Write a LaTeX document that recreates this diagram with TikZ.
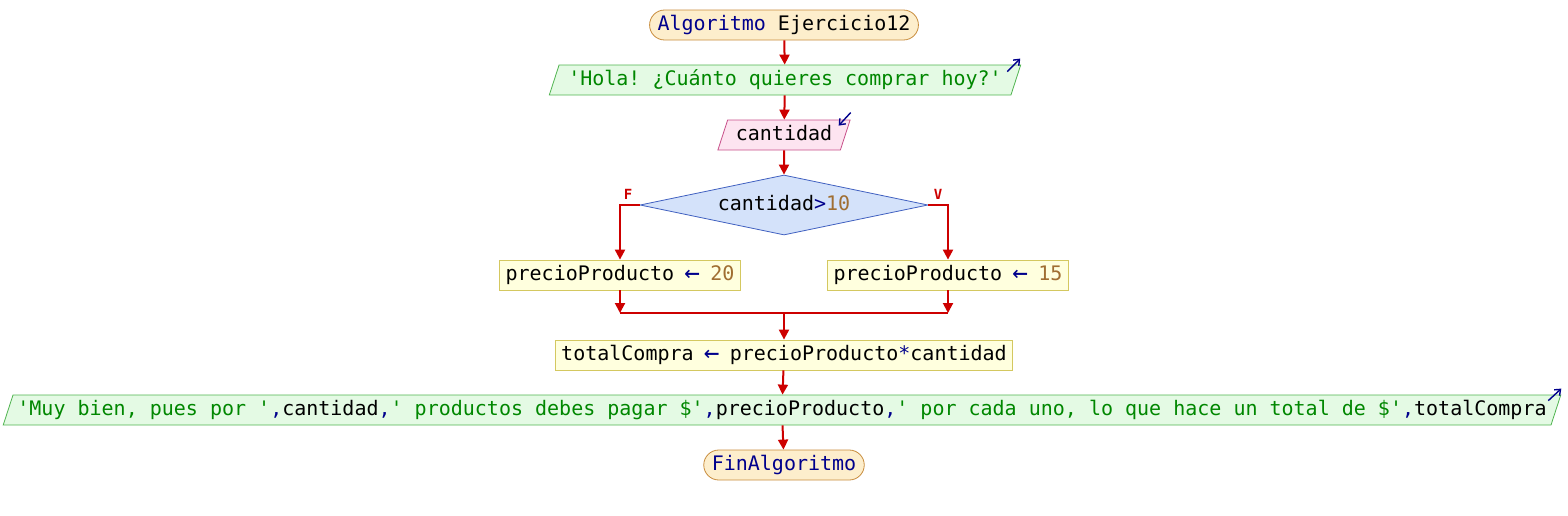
\documentclass[tikz,border=0pt]{standalone}
\usepackage{fontspec}
\setmonofont{DejaVu Sans Mono}
\usetikzlibrary{shapes.geometric,arrows.meta}

\definecolor{kwblue}{RGB}{0,0,140}
\definecolor{strgreen}{RGB}{0,135,0}
\definecolor{numbrown}{RGB}{160,110,50}
\definecolor{flowred}{RGB}{205,0,0}
\definecolor{termfill}{RGB}{253,238,204}
\definecolor{termline}{RGB}{200,140,60}
\definecolor{outfill}{RGB}{228,250,228}
\definecolor{outline}{RGB}{80,180,80}
\definecolor{infill}{RGB}{253,228,240}
\definecolor{inline}{RGB}{200,80,138}
\definecolor{condfill}{RGB}{212,226,250}
\definecolor{condline}{RGB}{64,96,192}
\definecolor{asgfill}{RGB}{255,255,222}
\definecolor{asgline}{RGB}{212,200,96}

\newcommand{\kwd}[1]{\textcolor{kwblue}{#1}}
\newcommand{\strg}[1]{\textcolor{strgreen}{#1}}
\newcommand{\numb}[1]{\textcolor{numbrown}{#1}}
\newcommand{\opr}[1]{\textcolor{kwblue}{#1}}
\newcommand{\asig}{\opr{\makebox[6.02pt]{\raisebox{-0.6pt}{\fontsize{13}{12}\selectfont ←}}}}

\begin{document}
\begin{tikzpicture}[
    x=0.5pt, y=-0.5pt,
    every node/.style={font=\ttfamily\fontsize{10}{12}\selectfont, text height=7.5pt, text depth=2.5pt, inner ysep=2.5pt},
    termnode/.style={draw=termline, fill=termfill, rounded corners=7.5pt, inner xsep=4pt},
    outnode/.style={trapezium, trapezium left angle=72, trapezium right angle=108, trapezium stretches body, draw=outline, fill=outfill, inner xsep=4.6pt},
    innode/.style={trapezium, trapezium left angle=72, trapezium right angle=108, trapezium stretches body, draw=inline, fill=infill, inner xsep=4.1pt},
    condnode/.style={diamond, aspect=4.8, draw=condline, fill=condfill, minimum width=144pt, minimum height=30pt, inner sep=0pt},
    asignnode/.style={rectangle, draw=asgline, fill=asgfill, inner xsep=3pt},
    flow/.style={draw=flowred, line width=1pt, -{Triangle[length=5pt,width=5pt]}},
    flowline/.style={draw=flowred, line width=1pt},
    ioarrow/.style={draw=kwblue, line width=0.7pt, -{Straight Barb[length=2.5pt,width=4pt]}},
    branch/.style={font=\ttfamily\bfseries\fontsize{7}{8}\selectfont, text=flowred, text height=5pt, text depth=0pt}
]
\useasboundingbox (0,0) rectangle (1568,515);

% Nodes
\node[termnode] (inicio) at (784,25) {\kwd{Algoritmo} Ejercicio12};
\node[outnode] (saludo) at (785,80) {\strg{'Hola! ¿Cuánto quieres comprar hoy?'}};
\node[innode] (leer) at (784,135) {cantidad};
\node[condnode] (cond) at (784,205) {cantidad\opr{>}\numb{10}};
\node[asignnode] (p20) at (620,275) {precioProducto \asig{} \numb{20}};
\node[asignnode] (p15) at (948,275) {precioProducto \asig{} \numb{15}};
\coordinate (junta) at (784,313);
\node[asignnode] (total) at (784,355) {totalCompra \asig{} precioProducto\opr{*}cantidad};
\node[outnode, inner xsep=2.2pt] (mensaje) at (782,410) {\strg{'Muy bien, pues por '}\opr{,}cantidad\opr{,}\strg{' productos debes pagar \$'}\opr{,}precioProducto\opr{,}\strg{' por cada uno, lo que hace un total de \$'}\opr{,}totalCompra};
\node[termnode] (fin) at (784,465) {\kwd{FinAlgoritmo}};

% Branch labels
\node[branch] (etqF) at (628,194) {F};
\node[branch] (etqV) at (938,194) {V};

% Connectors
\draw[flow] (inicio) -- (saludo);
\draw[flow] (saludo) -- (leer);
\draw[flow] (leer) -- (cond);
\draw[flow] (cond.west) -| (p20.north);
\draw[flow] (cond.east) -| (p15.north);
\draw[flow] (p20) -- (p20 |- junta);
\draw[flow] (p15) -- (p15 |- junta);
\draw[flowline] (p20 |- junta) -- (p15 |- junta);
\draw[flow] (junta) -- (total);
\draw[flow] (total) -- (mensaje);
\draw[flow] (mensaje) -- (fin);

% Input/output marks
\draw[ioarrow] ([shift={(-14,7)}]saludo.top right corner) -- ([shift={(-1,-6)}]saludo.top right corner);
\draw[ioarrow] ([shift={(0,-7)}]leer.top right corner) -- ([shift={(-12,6)}]leer.top right corner);
\draw[ioarrow] ([shift={(-13,6)}]mensaje.top right corner) -- ([shift={(0,-6)}]mensaje.top right corner);

\end{tikzpicture}
\end{document}
